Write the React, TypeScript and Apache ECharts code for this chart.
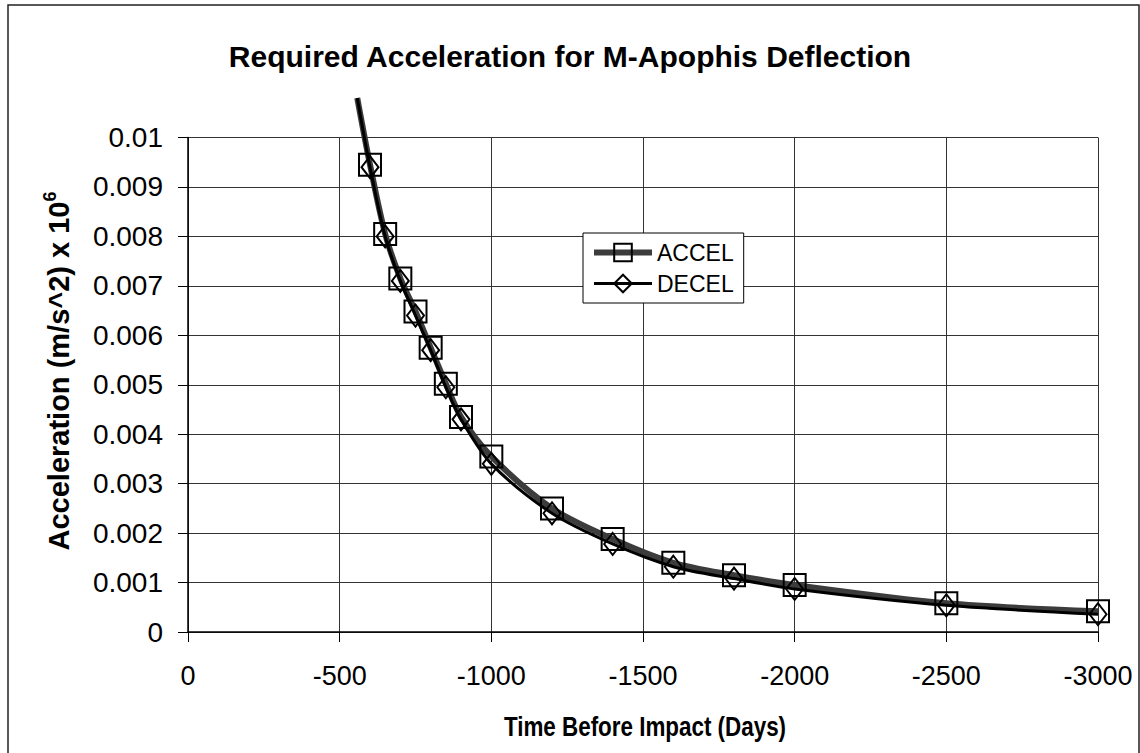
import React, { useEffect, useRef } from "react";
import * as echarts from "echarts";

const chartTitle = "Required Acceleration for M-Apophis Deflection";
const xAxisTitle = "Time Before Impact (Days)";
const seriesNames = ["ACCEL", "DECEL"];

// days before impact (x) and required acceleration (y)
const days = [-600, -650, -700, -750, -800, -850, -900, -1000, -1200, -1400, -1600, -1800, -2000, -2500, -3000];
const accel = [0.00945, 0.00805, 0.00715, 0.00648, 0.00575, 0.00502, 0.00435, 0.00355, 0.0025, 0.00188, 0.0014, 0.00115, 0.00095, 0.00058, 0.00042];
const decel = [0.0094, 0.008, 0.0071, 0.0064, 0.0057, 0.00495, 0.0043, 0.0034, 0.0024, 0.00178, 0.00132, 0.00108, 0.00087, 0.00054, 0.00036];
// curve continues above the plot top before the first marker
const leadDay = -558;
const leadValue = 0.0108;

const FONT = "'Liberation Sans', Arial, sans-serif";

export default function App() {
  const ref = useRef<HTMLDivElement>(null);
  useEffect(() => {
    if (!ref.current) return;
    const chart = echarts.init(ref.current, undefined, { renderer: "svg" });
    const build = (vals: number[]) => [
      { value: [leadDay, leadValue], symbol: "none" },
      ...days.map((d, i) => [d, vals[i]]),
    ];
    chart.setOption({
      animation: false,
      backgroundColor: "#ffffff",
      textStyle: { fontFamily: FONT, color: "#000" },
      title: {
        text: chartTitle,
        left: "center",
        top: 36,
        textStyle: { fontFamily: FONT, fontSize: 30, fontWeight: "bold", color: "#000" },
      },
      legend: {
        orient: "vertical",
        left: 583,
        top: 233,
        padding: [8, 10, 8, 8],
        itemGap: 8,
        itemWidth: 58,
        itemHeight: 22,
        backgroundColor: "#fff",
        borderColor: "#000",
        borderWidth: 1,
        textStyle: { fontFamily: FONT, fontSize: 23, color: "#000" },
        data: [
          { name: seriesNames[0], lineStyle: { width: 6, color: "#3c3c3c" } },
          { name: seriesNames[1], lineStyle: { width: 3, color: "#000" } },
        ],
      },
      grid: {
        left: 188,
        right: 42,
        top: 137.5,
        bottom: 121,
        outerBoundsMode: "none",
        containLabel: false,
      },
      xAxis: {
        type: "value",
        min: -3000,
        max: 0,
        interval: 500,
        inverse: true,
        axisLine: { show: true, onZero: false, lineStyle: { color: "#000", width: 1.5 } },
        axisTick: { show: true, length: 10, lineStyle: { color: "#000", width: 1 } },
        axisLabel: {
          margin: 30,
          fontFamily: FONT,
          fontSize: 27,
          color: "#000",
          formatter: (v: number) => String(v),
        },
        splitLine: { show: true, lineStyle: { color: "#333", width: 1 } },
      },
      yAxis: {
        type: "value",
        min: 0,
        max: 0.01,
        interval: 0.001,
        axisLine: { show: true, onZero: false, lineStyle: { color: "#000", width: 1.5 } },
        axisTick: { show: true, length: 10, lineStyle: { color: "#000", width: 1 } },
        axisLabel: {
          margin: 25,
          fontFamily: FONT,
          fontSize: 28,
          color: "#000",
          formatter: (v: number) => String(parseFloat(v.toFixed(4))),
        },
        splitLine: { show: true, lineStyle: { color: "#333", width: 1 } },
      },
      graphic: [
        {
          type: "rect",
          shape: { x: 8, y: 5, width: 1131, height: 780 },
          style: { fill: "none", stroke: "#222", lineWidth: 1.5 },
          silent: true,
          z: 100,
        },
        {
          type: "text",
          x: 57,
          y: 371,
          rotation: Math.PI / 2,
          style: {
            text: "{a|Acceleration (m/s^2) x 10}{b|6}",
            align: "center",
            verticalAlign: "middle",
            fill: "#000",
            rich: {
              a: { fontFamily: FONT, fontSize: 29, fontWeight: "bold", fill: "#000", verticalAlign: "bottom" },
              b: { fontFamily: FONT, fontSize: 18, fontWeight: "bold", fill: "#000", padding: [0, 0, 15, 0], verticalAlign: "bottom" },
            },
          },
        },
        {
          type: "text",
          x: 645,
          y: 727,
          scaleX: 0.83,
          style: {
            text: xAxisTitle,
            align: "center",
            verticalAlign: "middle",
            fill: "#000",
            font: `bold 27px ${FONT}`,
          },
        },
      ],
      series: [
        {
          name: seriesNames[0],
          type: "line",
          data: build(accel),
          smooth: 0.3,
          clip: false,
          symbol: "rect",
          symbolSize: 22,
          showSymbol: true,
          lineStyle: { color: "#3c3c3c", width: 6 },
          itemStyle: { color: "rgba(255,255,255,0)", borderColor: "#000", borderWidth: 2 },
          z: 2,
        },
        {
          name: seriesNames[1],
          type: "line",
          data: build(decel),
          smooth: 0.3,
          clip: false,
          symbol: "diamond",
          symbolSize: [17, 22],
          showSymbol: true,
          lineStyle: { color: "#000", width: 3 },
          itemStyle: { color: "rgba(255,255,255,0)", borderColor: "#000", borderWidth: 2 },
          z: 3,
        },
      ],
    });
    return () => chart.dispose();
  }, []);
  return (
    <div
      ref={ref}
      style={{ position: "fixed", left: 0, top: 0, width: 1140, height: 753, background: "#fff" }}
    />
  );
}
